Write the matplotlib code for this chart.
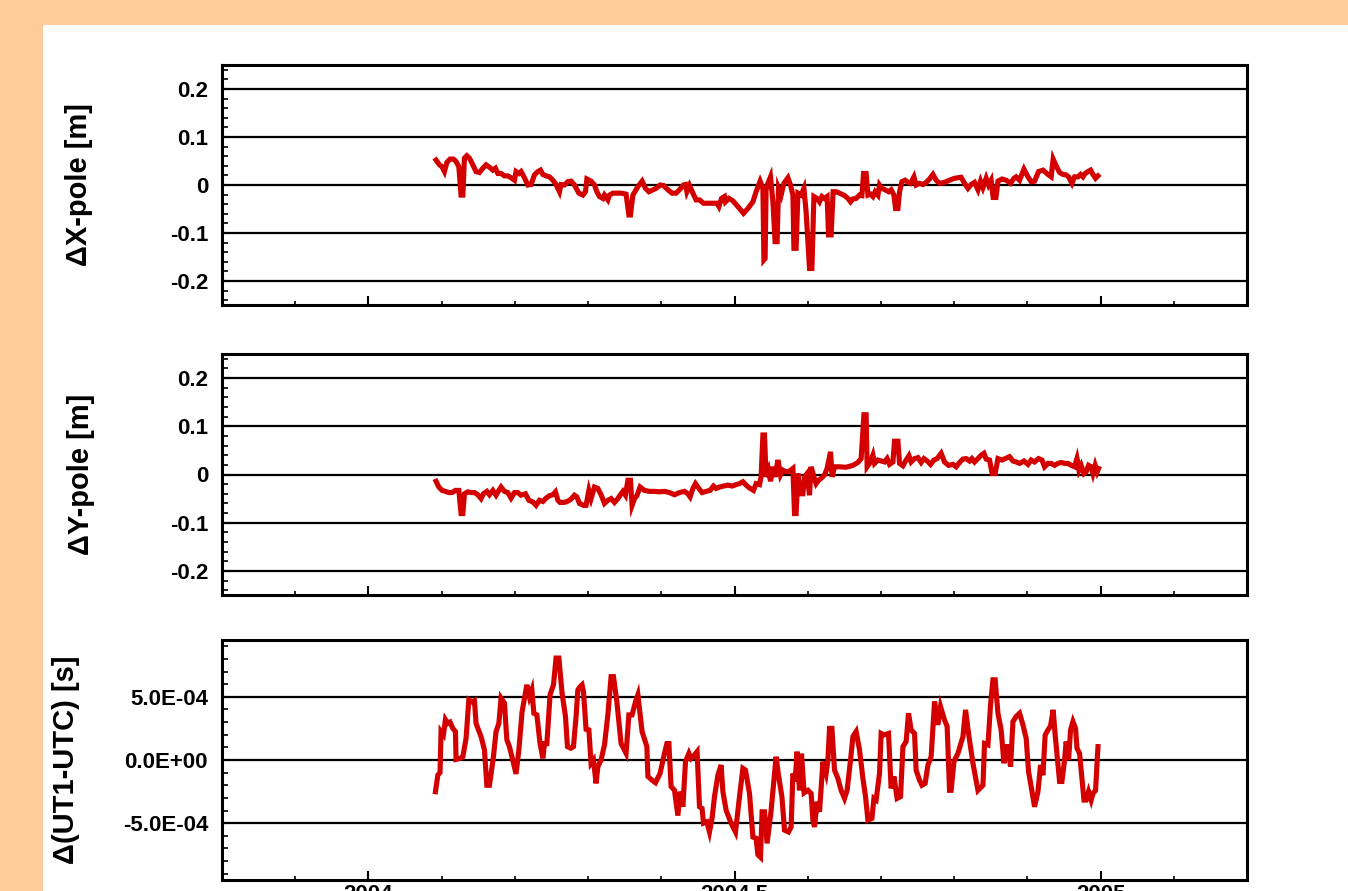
import numpy as np
import matplotlib
matplotlib.use("Agg")
import matplotlib.pyplot as plt
from matplotlib.patches import Rectangle
from matplotlib.ticker import MultipleLocator, FuncFormatter

plt.rcParams['font.family'] = ['Liberation Sans', 'DejaVu Sans']
plt.rcParams['font.weight'] = 'bold'

# (day of 2004, value) pairs
# X-pole offsets in cm
xpole = [(33.8, 5.2), (35.5, 4.2), (36.8, 3.8), (38.0, 2.8), (39.2, 4.7), (40.8, 5.4), (42.5, 5.4),
         (43.8, 4.9), (45.2, 3.8), (46.3, -2.1), (47.2, -2.1), (48.0, 5.6), (49.2, 6.1), (50.5, 5.6),
         (52.2, 4.2), (53.8, 2.8), (55.5, 2.6), (57.2, 3.5), (58.8, 4.2), (60.5, 3.7), (62.2, 3.1),
         (63.5, 3.5), (64.7, 2.4), (66.3, 2.4), (68.0, 1.9), (69.7, 1.9), (71.3, 1.5), (73.0, 1.0),
         (73.8, 2.8), (75.2, 2.4), (76.3, 2.8), (78.0, 1.5), (79.7, 0.0), (81.3, 0.1), (83.0, 2.1),
         (84.7, 2.8), (86.0, 3.1), (87.2, 2.2), (88.8, 1.9), (90.5, 1.7), (92.2, 1.0), (93.8, 0.1),
         (95.5, -1.4), (96.3, 0.1), (98.0, 0.0), (99.7, 0.7), (101.3, 0.8), (103.0, 0.0), (105.2, -1.7),
         (107.2, -2.1), (108.5, -1.4), (109.2, 1.25), (111.3, 0.8), (113.0, 0.0), (114.2, -1.4),
         (115.5, -2.4), (117.2, -2.8), (118.0, -2.1), (119.7, -3.1), (120.5, -2.1), (122.2, -1.7),
         (123.8, -1.7), (126.3, -1.7), (128.8, -1.9), (130.2, -6.25), (131.0, -6.25), (132.2, -2.1),
         (134.7, -0.35), (136.8, 0.8), (138.5, -0.7), (140.2, -1.4), (142.2, -1.0), (143.8, -0.7),
         (145.8, 0.0), (147.5, -0.1), (149.7, -1.0), (151.8, -1.7), (153.8, -1.7), (155.5, -1.0),
         (157.5, 0.0), (158.5, 0.1), (159.2, -1.4), (160.5, -0.1), (162.2, -1.7), (163.8, -3.1),
         (165.5, -3.1), (167.5, -3.8), (169.7, -3.8), (172.2, -3.8), (174.2, -3.8), (175.2, -4.5),
         (176.5, -2.8), (178.0, -2.4), (178.5, -3.5), (180.2, -2.8), (182.2, -3.3), (184.7, -4.5),
         (187.5, -5.9), (189.7, -4.9), (192.2, -3.5), (193.8, -1.4), (195.8, 0.8), (197.2, -0.7),
         (197.7, -15.6), (198.3, -15.3), (198.8, -1.0), (199.7, 0.35), (201.0, 1.7), (202.2, -3.5),
         (203.3, -11.8), (204.3, -11.8), (205.0, -0.7), (206.3, -2.1), (207.7, 0.35), (209.7, 1.5),
         (211.0, 0.0), (212.2, -2.1), (212.7, -13.2), (213.8, -13.2), (214.7, -1.7), (216.3, -2.1),
         (217.7, -0.7), (218.8, -5.6), (220.5, -17.4), (221.7, -17.4), (222.7, -2.4), (224.3, -2.8),
         (225.5, -3.5), (226.7, -2.4), (228.0, -2.8), (229.3, -2.4), (230.0, -10.4), (231.3, -10.4),
         (232.3, -1.4), (233.8, -1.4), (235.5, -1.7), (238.0, -2.2), (239.7, -2.8), (241.0, -3.5),
         (242.2, -2.9), (243.8, -2.8), (245.5, -2.1), (246.7, -2.2), (247.5, 2.4), (248.8, 2.4),
         (249.7, -2.1), (251.0, -1.9), (252.2, -2.4), (253.3, -1.4), (254.7, -2.1), (255.5, 0.0),
         (256.7, -0.7), (258.3, -1.0), (260.0, -1.4), (261.3, -1.0), (262.7, -2.1), (263.5, -4.9),
         (264.7, -4.9), (265.5, -1.4), (266.7, 0.7), (268.3, 1.0), (269.7, 0.55), (271.0, 0.35),
         (272.7, 1.7), (273.8, 0.0), (275.5, 0.35), (277.2, 0.1), (278.8, 0.55), (280.5, 1.25),
         (282.2, 2.2), (283.8, 1.0), (285.5, 0.35), (288.0, 0.55), (290.5, 1.0), (293.0, 1.4),
         (296.3, 1.6), (298.0, 0.35), (299.7, -0.7), (301.3, 0.1), (303.0, 0.55), (304.7, -1.0),
         (306.0, 0.8), (307.2, -0.55), (308.8, 1.4), (310.0, 0.0), (311.3, 1.0), (312.3, -2.6),
         (313.7, -2.6), (314.7, 0.8), (316.7, 1.25), (318.8, 1.0), (321.0, 0.35), (322.7, 1.4),
         (323.8, 1.7), (325.5, 1.0), (327.7, 3.3), (329.7, 1.7), (331.3, 0.7), (333.0, 0.8),
         (335.0, 2.8), (337.2, 3.1), (339.7, 2.2), (341.3, 1.7), (342.3, 5.4), (343.8, 4.0),
         (345.5, 2.6), (347.2, 2.2), (348.8, 2.1), (350.0, 1.7), (351.7, 0.35), (353.0, 1.7),
         (354.7, 1.7), (356.0, 2.2), (357.2, 1.7), (358.3, 2.4), (359.7, 2.8), (361.0, 3.1),
         (362.2, 2.2), (363.5, 1.4), (364.7, 1.9)]

# Y-pole offsets in cm
ypole = [(33.8, -1.4), (35.2, -2.6), (36.8, -3.3), (38.5, -3.5), (40.2, -3.75), (41.8, -3.75),
         (43.5, -3.3), (45.2, -3.3), (46.3, -8.1), (47.2, -8.1), (48.0, -4.0), (49.7, -3.6),
         (51.3, -3.75), (53.0, -3.75), (54.7, -4.2), (56.3, -5.0), (57.5, -4.0), (59.2, -3.5),
         (60.5, -4.2), (62.2, -3.3), (63.8, -4.3), (65.2, -3.3), (66.3, -2.6), (68.0, -3.5),
         (69.7, -3.75), (71.3, -4.9), (73.0, -3.75), (74.7, -3.75), (76.3, -4.3), (78.5, -4.0),
         (80.2, -5.35), (82.2, -5.7), (83.8, -6.4), (85.5, -5.35), (87.2, -5.6), (88.8, -4.9),
         (90.5, -4.4), (92.2, -4.2), (93.5, -3.6), (94.7, -5.35), (95.8, -5.8), (97.2, -5.8),
         (98.8, -5.7), (100.5, -5.35), (101.8, -4.9), (103.0, -4.3), (104.2, -4.65), (105.5, -6.0),
         (107.5, -6.4), (108.8, -6.4), (110.2, -3.3), (111.3, -5.0), (113.0, -2.6), (114.7, -2.9),
         (116.3, -4.2), (118.0, -6.0), (119.7, -5.35), (121.3, -5.0), (123.0, -5.8), (124.7, -5.0),
         (125.8, -4.3), (127.2, -3.5), (128.5, -4.3), (129.7, -1.2), (131.0, -1.2), (131.8, -6.4),
         (133.0, -5.0), (134.2, -4.4), (135.8, -2.6), (138.0, -3.3), (140.5, -3.5), (143.0, -3.5),
         (145.5, -3.6), (148.0, -3.5), (150.5, -3.75), (153.0, -4.2), (155.5, -3.75), (158.0, -3.5),
         (159.7, -4.0), (160.8, -4.65), (162.2, -2.9), (163.5, -1.9), (165.2, -2.9), (166.8, -3.75),
         (168.8, -3.5), (170.8, -3.3), (172.5, -2.4), (173.8, -2.9), (175.5, -2.6), (177.5, -2.4),
         (179.7, -2.2), (181.8, -2.4), (183.8, -2.1), (185.5, -1.9), (187.2, -1.5), (188.8, -2.2),
         (190.5, -2.8), (192.5, -3.3), (193.8, -1.9), (195.5, -2.1), (196.3, -0.5), (197.2, 8.2),
         (198.0, 8.2), (198.8, -0.5), (200.0, 0.9), (201.0, -1.4), (202.2, 1.6), (203.3, -0.5),
         (204.7, 3.0), (206.0, -0.1), (207.2, 0.9), (208.8, 0.55), (210.5, 0.7), (212.2, 1.25),
         (213.0, -8.1), (213.8, -8.1), (214.7, 0.2), (216.0, -4.0), (217.2, -4.0), (218.0, -0.5),
         (219.3, 0.2), (220.5, -4.3), (221.3, 1.6), (222.7, -0.5), (223.8, -1.9), (225.0, -1.2),
         (226.3, -0.8), (228.0, -0.1), (229.3, 1.25), (231.0, 4.7), (231.8, -0.5), (233.0, 1.6),
         (235.5, 1.6), (238.8, 1.5), (242.2, 1.9), (244.7, 2.5), (246.3, 3.3), (247.7, 12.4),
         (248.8, 12.4), (249.3, 1.6), (251.0, 2.6), (252.2, 4.0), (253.0, 2.3), (254.7, 3.0),
         (256.3, 2.8), (258.0, 2.6), (259.3, 3.3), (260.5, 2.1), (262.2, 2.6), (263.0, 6.9),
         (264.7, 6.9), (265.5, 2.3), (267.2, 1.8), (268.8, 3.0), (270.2, 3.9), (271.3, 2.6),
         (273.0, 3.3), (274.7, 3.5), (276.3, 2.5), (277.7, 3.3), (279.3, 2.8), (281.0, 2.1),
         (282.7, 3.0), (284.3, 3.3), (286.3, 4.4), (288.0, 2.6), (290.0, 1.9), (292.2, 2.1),
         (293.8, 1.6), (295.5, 2.5), (297.2, 3.2), (298.8, 3.3), (300.5, 2.8), (301.7, 3.3),
         (303.0, 2.6), (304.7, 3.3), (306.3, 4.0), (307.7, 4.4), (308.8, 3.2), (310.5, 3.0),
         (311.8, 0.2), (313.3, 0.2), (314.7, 3.3), (316.7, 3.0), (318.3, 3.3), (320.5, 3.7),
         (322.2, 2.8), (323.8, 2.6), (325.5, 2.3), (327.7, 2.8), (329.7, 2.1), (331.3, 3.0),
         (333.0, 2.6), (335.0, 3.3), (336.7, 3.0), (338.0, 1.6), (339.7, 2.3), (341.3, 2.3),
         (343.0, 1.9), (344.7, 2.3), (346.3, 2.5), (348.0, 2.3), (349.7, 2.3), (351.3, 1.9),
         (353.0, 1.6), (354.2, 3.3), (355.2, 0.9), (356.3, 1.9), (357.7, 0.2), (358.8, 0.55),
         (360.0, 1.9), (361.3, 1.6), (362.2, 0.2), (363.3, 1.9), (364.3, 0.55), (365.0, 1.25)]

# UT1-UTC offsets in units of 1e-4 s
ut1 = [(33.5, -2.51), (34.7, -1.19), (35.8, -1.0), (36.3, 2.25), (37.5, 2.0), (38.5, 3.2),
       (39.7, 2.9), (40.8, 3.0), (42.2, 2.5), (43.5, 2.25), (43.8, 0.05), (45.8, 0.13), (47.2, 0.26),
       (48.8, 1.7), (50.2, 4.76), (51.8, 4.6), (53.0, 4.7), (53.8, 2.9), (56.3, 1.85), (58.0, 0.8),
       (59.2, -2.0), (60.5, -2.0), (62.5, 0.26), (63.8, 2.25), (65.2, 2.9), (66.3, 4.9), (68.0, 4.5),
       (69.2, 1.6), (70.5, 1.06), (72.5, -0.26), (73.8, -1.1), (75.2, 0.8), (76.8, 3.8), (79.2, 5.95),
       (80.5, 5.0), (81.7, 5.55), (82.7, 3.7), (84.2, 3.57), (85.8, 1.3), (87.2, 0.13), (88.0, 1.3),
       (89.2, 1.3), (90.8, 5.16), (92.5, 5.95), (93.8, 8.07), (95.2, 8.07), (96.8, 5.3), (98.5, 3.44),
       (99.5, 1.06), (101.2, 0.93), (102.5, 1.06), (103.8, 3.44), (104.7, 5.55), (105.8, 5.8),
       (106.8, 5.95), (107.5, 5.42), (108.8, 2.43), (110.2, 2.38), (111.3, -0.26), (112.5, 0.0),
       (113.8, -1.85), (114.7, -0.53), (116.3, 0.0), (118.0, 1.19), (119.7, 3.57), (121.3, 6.6),
       (122.5, 6.6), (124.2, 4.6), (126.3, 1.3), (128.8, 0.53), (130.2, 3.57), (131.8, 3.57),
       (133.5, 4.6), (134.7, 5.16), (136.8, 2.25), (139.2, 1.06), (139.7, -1.3), (141.8, -1.6),
       (143.5, -1.8), (145.8, -1.06), (148.0, 0.53), (149.2, 1.3), (150.2, 1.3), (151.3, -2.1),
       (153.0, -2.4), (154.7, -4.4), (155.8, -2.5), (157.2, -3.7), (158.5, -0.13), (160.2, 0.53),
       (161.3, 0.13), (163.0, 0.4), (164.3, 0.66), (165.5, -3.7), (166.8, -3.84), (167.5, -5.0),
       (169.2, -4.9), (170.5, -5.7), (171.8, -4.6), (173.0, -2.9), (174.7, -1.2), (176.3, -0.4),
       (177.2, -2.5), (178.8, -3.97), (181.3, -5.0), (183.5, -5.7), (185.5, -2.9), (187.2, -0.66),
       (188.5, -0.8), (190.5, -2.65), (192.2, -6.1), (193.8, -6.2), (194.7, -7.5), (196.0, -7.7),
       (196.8, -4.1), (198.0, -4.1), (199.3, -6.6), (201.3, -4.0), (203.8, 0.26), (205.0, -1.2),
       (206.7, -2.9), (208.0, -5.55), (210.0, -5.7), (211.3, -5.3), (212.2, -1.06), (213.3, -1.7),
       (214.3, 0.66), (215.5, -2.4), (216.5, 0.5), (217.8, -2.6), (219.7, -2.4), (221.3, -2.65),
       (222.2, -4.76), (223.0, -5.3), (224.3, -3.3), (225.5, -4.1), (227.2, -0.13), (228.8, -1.06),
       (229.7, 0.0), (230.5, 2.5), (231.7, 2.5), (233.0, -0.8), (234.7, -1.46), (236.3, -2.4),
       (238.0, -3.04), (239.3, -2.4), (241.0, 0.0), (242.2, 1.85), (243.8, 2.25), (245.5, 0.8),
       (247.2, -1.46), (248.5, -2.9), (249.7, -4.76), (251.7, -4.63), (252.7, -3.04), (253.8, -3.17),
       (255.5, -1.06), (256.3, 2.1), (257.7, 1.98), (260.0, 2.1), (261.3, -2.25), (262.7, -1.3),
       (264.3, -3.04), (266.0, -2.9), (267.2, 1.06), (268.8, 1.46), (270.0, 3.7), (271.3, 2.38),
       (273.0, 2.1), (273.8, -0.8), (275.5, -1.6), (276.7, -2.0), (278.3, -1.85), (279.7, -0.4),
       (281.3, 0.26), (283.0, 4.63), (284.7, 2.78), (286.0, 4.23), (287.7, 3.3), (289.3, 2.65),
       (290.5, -2.4), (291.3, -2.4), (292.7, -0.13), (294.7, 0.53), (297.2, 1.85), (298.5, 3.97),
       (300.0, 2.1), (302.2, -0.26), (304.7, -2.4), (307.2, -2.0), (308.0, 1.3), (309.7, 1.2),
       (311.0, 4.37), (312.2, 6.35), (313.3, 6.35), (314.7, 3.7), (316.3, 2.38), (317.7, -0.26),
       (318.8, 1.06), (319.7, 1.06), (321.0, -0.53), (322.2, 3.04), (323.8, 3.44), (325.5, 3.7),
       (327.2, 2.78), (328.8, 1.72), (330.0, -0.93), (331.3, -2.1), (333.0, -3.7), (334.7, -2.5),
       (336.0, -0.4), (337.2, -1.2), (338.3, 1.98), (339.7, 2.38), (341.0, 2.7), (342.3, 3.97),
       (343.3, 1.98), (345.5, -1.7), (346.7, -1.7), (348.0, 0.0), (348.8, 1.46), (350.0, 0.0),
       (351.0, 2.38), (352.2, 3.04), (353.5, 2.5), (354.2, 0.93), (355.5, 0.53), (357.7, -3.17),
       (358.8, -3.17), (360.0, -2.5), (361.3, -3.17), (362.2, -2.65), (363.5, -2.4), (364.7, 1.06)]

ylabels = ["\u0394X-pole [m]", "\u0394Y-pole [m]", "\u0394(UT1-UTC) [s]"]
year_ticks = [2004, 2004.5, 2005]


def to_series(pairs, scale):
    day, val = np.array(pairs).T
    return 2004 + day / 366.0, val * scale


series = [to_series(xpole, 0.01), to_series(ypole, 0.01), to_series(ut1, 1e-4)]

fig = plt.figure(figsize=(13.48, 8.91), dpi=100, facecolor='white')
orange = '#ffcc99'
fig.add_artist(Rectangle((0, 1 - 25 / 891), 1, 25 / 891, transform=fig.transFigure,
                         color=orange, lw=0, zorder=-5))
fig.add_artist(Rectangle((0, 0), 43 / 1348, 1, transform=fig.transFigure,
                         color=orange, lw=0, zorder=-5))

left = 222 / 1348
width = (1247 - 222) / 1348
panels = [(65, 305), (354, 595), (640, 880)]
label_x = [-0.126, -0.124, -0.139]

for i, (top, bot) in enumerate(panels):
    ax = fig.add_axes([left, 1 - bot / 891, width, (bot - top) / 891])
    t, v = series[i]
    ax.plot(t, v, color='#d40000', lw=3.7, solid_joinstyle='miter', zorder=3)

    ax.set_xlim(2003.8, 2005.2)
    ax.xaxis.set_major_locator(plt.FixedLocator(year_ticks))
    ax.xaxis.set_minor_locator(MultipleLocator(0.1))
    if i < 2:
        ax.set_ylim(-0.25, 0.25)
        ax.set_yticks([-0.2, -0.1, 0, 0.1, 0.2])
        ax.yaxis.set_minor_locator(MultipleLocator(0.02))
        ax.yaxis.set_major_formatter(FuncFormatter(lambda y, p: f'{y:g}'))
        ax.tick_params(axis='x', labelbottom=False)
    else:
        ax.set_ylim(-9.5e-4, 9.5e-4)
        ax.set_yticks([-5e-4, 0, 5e-4])
        ax.yaxis.set_minor_locator(MultipleLocator(1e-4))
        ax.yaxis.set_major_formatter(FuncFormatter(lambda y, p: f'{y:.1E}'))
        ax.xaxis.set_major_formatter(FuncFormatter(lambda x, p: f'{x:g}'))

    ax.grid(axis='y', which='major', color='black', lw=1.6, zorder=1)
    for s in ax.spines.values():
        s.set_linewidth(2.2)
    ax.tick_params(axis='both', which='both', direction='in', top=False, right=False,
                   colors='black', labelsize=16)
    ax.tick_params(axis='y', which='major', length=6, width=1.5, pad=10)
    ax.tick_params(axis='y', which='minor', length=4.5, width=1.2)
    ax.tick_params(axis='x', which='major', length=6.5, width=1.5, pad=3)
    ax.tick_params(axis='x', which='minor', length=3, width=1.2)
    for lab in ax.get_yticklabels() + ax.get_xticklabels():
        lab.set_fontweight('bold')

    ax.set_ylabel(ylabels[i], fontsize=21, fontweight='bold')
    ax.yaxis.set_label_coords(label_x[i], 0.5)

fig.savefig('out.png', dpi=100, facecolor=fig.get_facecolor())
